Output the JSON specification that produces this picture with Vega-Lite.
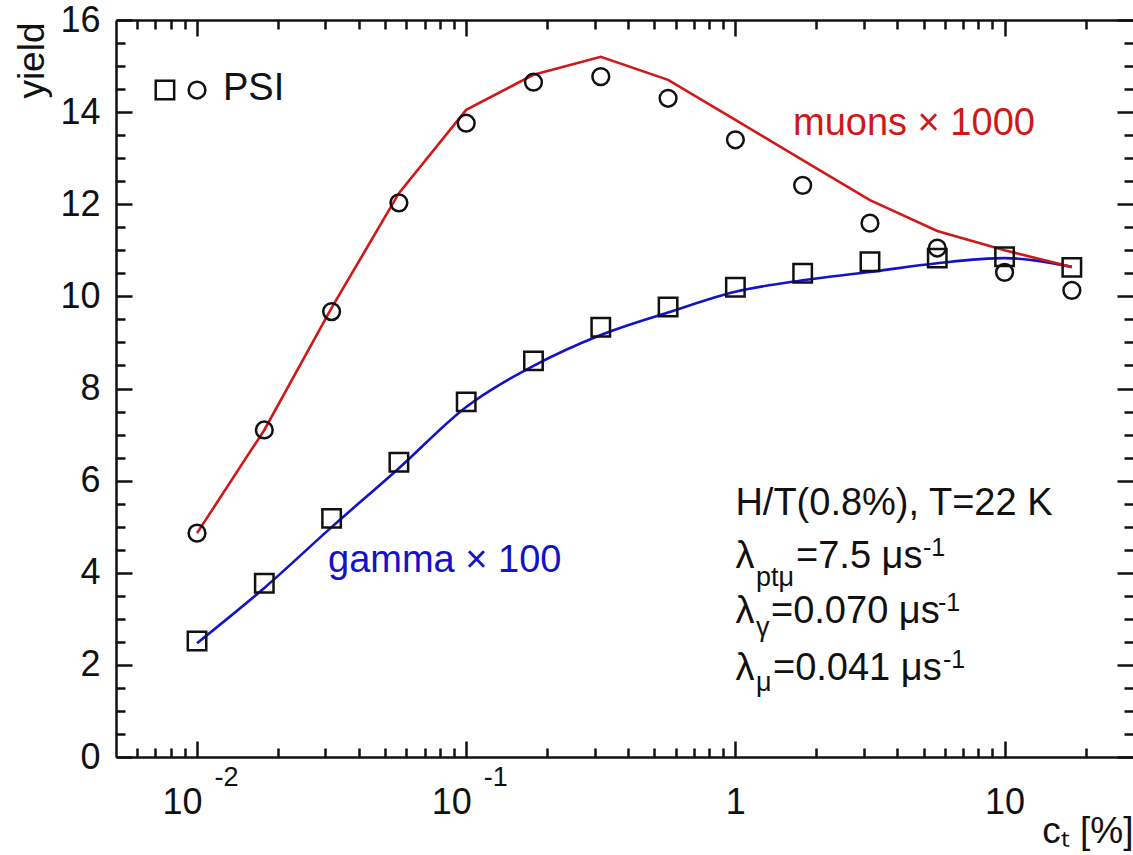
{
  "$schema": "https://vega.github.io/schema/vega-lite/v6.json",
  "width": 1017,
  "height": 737,
  "autosize": {"type": "none"},
  "padding": {"left": 116, "top": 20, "right": 0, "bottom": 98},
  "background": "white",
  "datasets": {
    "gammaLine": [
      {"c": 0.01, "yield": 2.47}, {"c": 0.01778, "yield": 3.67}, {"c": 0.03162, "yield": 4.99},
      {"c": 0.05623, "yield": 6.27}, {"c": 0.1, "yield": 7.6}, {"c": 0.1778, "yield": 8.49},
      {"c": 0.3162, "yield": 9.16}, {"c": 0.5623, "yield": 9.65}, {"c": 1, "yield": 10.1},
      {"c": 1.778, "yield": 10.35}, {"c": 3.162, "yield": 10.53}, {"c": 5.623, "yield": 10.72},
      {"c": 10, "yield": 10.83}, {"c": 17.78, "yield": 10.64}
    ],
    "muonLine": [
      {"c": 0.01, "yield": 4.86}, {"c": 0.01778, "yield": 7.1}, {"c": 0.03162, "yield": 9.75},
      {"c": 0.05623, "yield": 12.24}, {"c": 0.1, "yield": 14.05}, {"c": 0.1778, "yield": 14.81},
      {"c": 0.3162, "yield": 15.2}, {"c": 0.5623, "yield": 14.7}, {"c": 1, "yield": 13.83},
      {"c": 1.778, "yield": 12.96}, {"c": 3.162, "yield": 12.09}, {"c": 5.623, "yield": 11.42},
      {"c": 10, "yield": 11.0}, {"c": 17.78, "yield": 10.64}
    ],
    "gammaPSI": [
      {"c": 0.01, "yield": 2.52}, {"c": 0.01778, "yield": 3.77}, {"c": 0.03162, "yield": 5.18},
      {"c": 0.05623, "yield": 6.4}, {"c": 0.1, "yield": 7.71}, {"c": 0.1778, "yield": 8.6},
      {"c": 0.3162, "yield": 9.33}, {"c": 0.5623, "yield": 9.77}, {"c": 1, "yield": 10.2},
      {"c": 1.778, "yield": 10.5}, {"c": 3.162, "yield": 10.75}, {"c": 5.623, "yield": 10.83},
      {"c": 10, "yield": 10.86}, {"c": 17.78, "yield": 10.63}
    ],
    "muonPSI": [
      {"c": 0.01, "yield": 4.86}, {"c": 0.01778, "yield": 7.1}, {"c": 0.03162, "yield": 9.67},
      {"c": 0.05623, "yield": 12.03}, {"c": 0.1, "yield": 13.76}, {"c": 0.1778, "yield": 14.65},
      {"c": 0.3162, "yield": 14.77}, {"c": 0.5623, "yield": 14.3}, {"c": 1, "yield": 13.4},
      {"c": 1.778, "yield": 12.41}, {"c": 3.162, "yield": 11.59}, {"c": 5.623, "yield": 11.05},
      {"c": 10, "yield": 10.52}, {"c": 17.78, "yield": 10.13}
    ],
    "mainText": [
      {"c": 0.01249, "yield": 14.26, "text": "PSI"},
      {"c": 1.0, "yield": 5.25, "text": "H/T(0.8%), T=22 K"},
      {"c": 1.0, "yield": 4.1, "text": "λ"},
      {"c": 1.68, "yield": 4.1, "text": "=7.5 μs"},
      {"c": 1.0, "yield": 2.91, "text": "λ"},
      {"c": 1.356, "yield": 2.91, "text": "=0.070 μs"},
      {"c": 1.0, "yield": 1.67, "text": "λ"},
      {"c": 1.379, "yield": 1.67, "text": "=0.041 μs"}
    ],
    "subText": [
      {"c": 1.192, "yield": 3.71, "text": "ptμ"},
      {"c": 1.192, "yield": 2.63, "text": "γ"},
      {"c": 1.192, "yield": 1.43, "text": "μ"}
    ],
    "supText": [
      {"c": 4.976, "yield": 4.37, "text": "-1"},
      {"c": 5.657, "yield": 3.17, "text": "-1"},
      {"c": 5.905, "yield": 1.94, "text": "-1"}
    ],
    "seriesText": [
      {"c": 1.637, "yield": 13.5, "text": "muons × 1000", "series": "muons"},
      {"c": 0.03067, "yield": 4.02, "text": "gamma × 100", "series": "gamma"}
    ],
    "legendSymbols": [
      {"c": 0.0076, "yield": 14.48, "shape": "square"},
      {"c": 0.01, "yield": 14.48, "shape": "circle"}
    ]
  },
  "layer": [
    {
      "data": {"name": "gammaLine"},
      "mark": {"type": "line", "color": "#1212c8", "strokeWidth": 2.6, "interpolate": "monotone"},
      "encoding": {
        "x": {
          "field": "c", "type": "quantitative",
          "scale": {"type": "log", "domain": [0.005, 30]},
          "axis": {
            "orient": "bottom", "values": [0.01, 0.1, 1, 10], "tickSize": -16,
            "labelExpr": "datum.value == 1 ? '1' : '10'",
            "labelAlign": {"condition": {"test": "datum.value < 0.5", "value": "right"}, "value": "center"},
            "labelOffset": {"condition": {"test": "datum.value < 0.5", "value": 5}, "value": 0},
            "labelBaseline": "alphabetic", "labelPadding": 72, "labelFontSize": 36,
            "labelOverlap": false, "labelFlush": false,
            "title": "cₜ [%]", "titleFontSize": 37, "titleAnchor": "end", "titleAlign": "right",
            "titleBaseline": "alphabetic", "titleX": 1017, "titleY": 85
          }
        },
        "y": {
          "field": "yield", "type": "quantitative",
          "scale": {"domain": [0, 16], "nice": false, "zero": false},
          "axis": {
            "orient": "left", "values": [0, 2, 4, 6, 8, 10, 12, 14, 16], "tickSize": -16,
            "labelPadding": 32, "labelFontSize": 36, "labelOverlap": false, "labelFlush": false,
            "title": "yield", "titleFontSize": 37, "titleAngle": -90, "titleAnchor": "end",
            "titleAlign": "right", "titleBaseline": "middle", "titleX": -84, "titleY": 2
          }
        }
      }
    },
    {
      "data": {"name": "muonLine"},
      "mark": {"type": "line", "color": "#d01818", "strokeWidth": 2.6},
      "encoding": {
        "x": {
          "field": "c", "type": "quantitative",
          "scale": {"type": "log", "domain": [0.005, 30]},
          "axis": {
            "orient": "bottom",
            "values": [0.006, 0.007, 0.008, 0.009, 0.02, 0.03, 0.04, 0.05, 0.06, 0.07, 0.08, 0.09, 0.2, 0.3, 0.4, 0.5, 0.6, 0.7, 0.8, 0.9, 2, 3, 4, 5, 6, 7, 8, 9, 20],
            "tickSize": -9, "labels": false, "domain": false, "title": null
          }
        },
        "y": {
          "field": "yield", "type": "quantitative",
          "scale": {"domain": [0, 16], "nice": false, "zero": false},
          "axis": {
            "orient": "left",
            "values": [0.5, 1, 1.5, 2.5, 3, 3.5, 4.5, 5, 5.5, 6.5, 7, 7.5, 8.5, 9, 9.5, 10.5, 11, 11.5, 12.5, 13, 13.5, 14.5, 15, 15.5],
            "tickSize": -9, "labels": false, "domain": false, "title": null
          }
        }
      }
    },
    {
      "data": {"name": "gammaPSI"},
      "mark": {"type": "point", "shape": "square", "filled": false, "color": "#111111", "opacity": 1, "strokeWidth": 2.5, "size": 340},
      "encoding": {
        "x": {
          "field": "c", "type": "quantitative",
          "scale": {"type": "log", "domain": [0.005, 30]},
          "axis": {"orient": "top", "values": [0.01, 0.1, 1, 10], "tickSize": -16, "labels": false, "domain": true, "title": null}
        },
        "y": {
          "field": "yield", "type": "quantitative",
          "scale": {"domain": [0, 16], "nice": false, "zero": false},
          "axis": {"orient": "right", "values": [0, 2, 4, 6, 8, 10, 12, 14, 16], "tickSize": -16, "labels": false, "domain": false, "title": null}
        }
      }
    },
    {
      "data": {"name": "muonPSI"},
      "mark": {"type": "point", "shape": "circle", "filled": false, "color": "#111111", "opacity": 1, "strokeWidth": 2.5, "size": 280},
      "encoding": {
        "x": {
          "field": "c", "type": "quantitative",
          "scale": {"type": "log", "domain": [0.005, 30]},
          "axis": {
            "orient": "top",
            "values": [0.006, 0.007, 0.008, 0.009, 0.02, 0.03, 0.04, 0.05, 0.06, 0.07, 0.08, 0.09, 0.2, 0.3, 0.4, 0.5, 0.6, 0.7, 0.8, 0.9, 2, 3, 4, 5, 6, 7, 8, 9, 20],
            "tickSize": -9, "labels": false, "domain": false, "title": null
          }
        },
        "y": {
          "field": "yield", "type": "quantitative",
          "scale": {"domain": [0, 16], "nice": false, "zero": false},
          "axis": {
            "orient": "right",
            "values": [0.5, 1, 1.5, 2.5, 3, 3.5, 4.5, 5, 5.5, 6.5, 7, 7.5, 8.5, 9, 9.5, 10.5, 11, 11.5, 12.5, 13, 13.5, 14.5, 15, 15.5],
            "tickSize": -9, "labels": false, "domain": false, "title": null
          }
        }
      }
    },
    {
      "data": {"name": "legendSymbols"},
      "mark": {"type": "point", "filled": false, "color": "#111111", "opacity": 1, "strokeWidth": 2.5},
      "encoding": {
        "x": {"field": "c", "type": "quantitative", "scale": {"type": "log", "domain": [0.005, 30]}, "axis": null},
        "y": {"field": "yield", "type": "quantitative", "scale": {"domain": [0, 16], "nice": false, "zero": false}, "axis": null},
        "shape": {"field": "shape", "type": "nominal", "scale": {"domain": ["square", "circle"], "range": ["square", "circle"]}, "legend": null},
        "size": {"field": "shape", "type": "nominal", "scale": {"domain": ["square", "circle"], "range": [340, 280]}, "legend": null}
      }
    },
    {
      "data": {"name": "mainText"},
      "mark": {"type": "text", "align": "left", "baseline": "alphabetic", "font": "Liberation Sans", "fontSize": 38, "color": "#111111"},
      "encoding": {
        "x": {
          "field": "c", "type": "quantitative",
          "scale": {"type": "log", "domain": [0.005, 30]},
          "axis": {
            "orient": "bottom", "values": [0.01, 0.1], "ticks": false, "domain": false,
            "labelExpr": "datum.value < 0.05 ? '-2' : '-1'",
            "labelAlign": "left", "labelOffset": 17, "labelBaseline": "alphabetic",
            "labelPadding": 28, "labelFontSize": 27, "labelOverlap": false, "labelFlush": false, "title": null
          }
        },
        "y": {"field": "yield", "type": "quantitative", "scale": {"domain": [0, 16], "nice": false, "zero": false}, "axis": null},
        "text": {"field": "text"}
      }
    },
    {
      "data": {"name": "subText"},
      "mark": {"type": "text", "align": "left", "baseline": "alphabetic", "font": "Liberation Sans", "fontSize": 27, "color": "#111111"},
      "encoding": {
        "x": {"field": "c", "type": "quantitative", "scale": {"type": "log", "domain": [0.005, 30]}, "axis": null},
        "y": {"field": "yield", "type": "quantitative", "scale": {"domain": [0, 16], "nice": false, "zero": false}, "axis": null},
        "text": {"field": "text"}
      }
    },
    {
      "data": {"name": "supText"},
      "mark": {"type": "text", "align": "left", "baseline": "alphabetic", "font": "Liberation Sans", "fontSize": 25, "color": "#111111"},
      "encoding": {
        "x": {"field": "c", "type": "quantitative", "scale": {"type": "log", "domain": [0.005, 30]}, "axis": null},
        "y": {"field": "yield", "type": "quantitative", "scale": {"domain": [0, 16], "nice": false, "zero": false}, "axis": null},
        "text": {"field": "text"}
      }
    },
    {
      "data": {"name": "seriesText"},
      "mark": {"type": "text", "align": "left", "baseline": "alphabetic", "font": "Liberation Sans", "fontSize": 38},
      "encoding": {
        "x": {"field": "c", "type": "quantitative", "scale": {"type": "log", "domain": [0.005, 30]}, "axis": null},
        "y": {"field": "yield", "type": "quantitative", "scale": {"domain": [0, 16], "nice": false, "zero": false}, "axis": null},
        "text": {"field": "text"},
        "color": {"field": "series", "type": "nominal", "scale": {"domain": ["muons", "gamma"], "range": ["#d01818", "#1212c8"]}, "legend": null}
      }
    }
  ],
  "resolve": {"axis": {"x": "independent", "y": "independent"}},
  "config": {
    "view": {"stroke": null},
    "axis": {
      "grid": false,
      "domainColor": "#111111", "domainWidth": 2.5,
      "tickColor": "#111111", "tickWidth": 2.5,
      "labelColor": "#111111", "labelFont": "Liberation Sans",
      "titleColor": "#111111", "titleFont": "Liberation Sans", "titleFontWeight": "normal"
    },
    "text": {"font": "Liberation Sans"}
  }
}
